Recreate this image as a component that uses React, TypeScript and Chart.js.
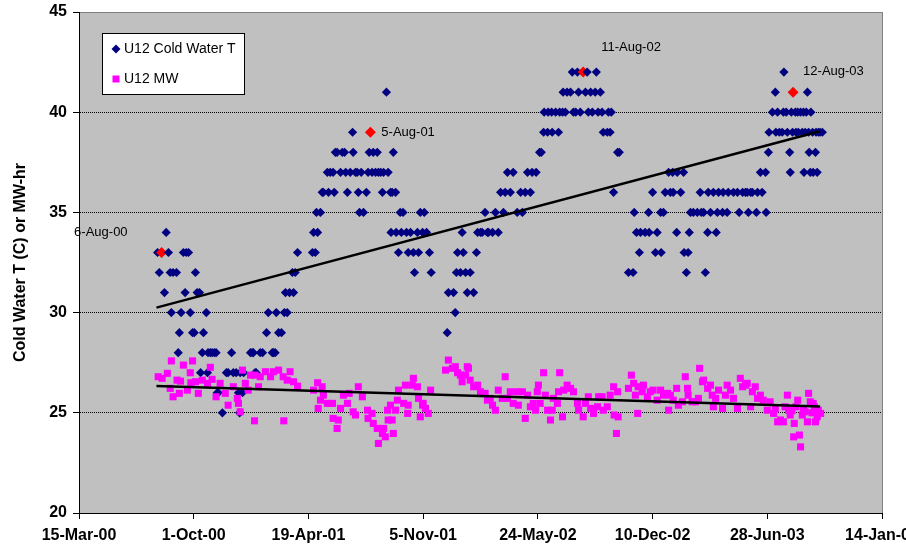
import { useEffect, useRef } from "react";
import { Chart, registerables } from "chart.js";

Chart.register(...registerables);

const FONT = "'Liberation Sans', Arial, Helvetica, sans-serif";

// x axis: days since 15-Mar-2000, ticks every 200 days
const xTickLabels = ["15-Mar-00", "1-Oct-00", "19-Apr-01", "5-Nov-01", "24-May-02", "10-Dec-02", "28-Jun-03", "14-Jan-04"];

// U12 Cold Water T (days since 15-Mar-00, deg C)
const cwDays = [
  137, 140, 149, 152, 156, 159, 161, 164, 170, 173, 175, 178, 182, 185, 187, 191, 194, 198, 201, 203, 206, 210, 212, 215, 217, 222, 224, 225, 229, 232, 236, 239, 241, 243, 250, 257, 260, 266, 269, 274, 278, 280, 281, 285, 287, 299, 302, 304, 307, 309, 316, 320, 327, 330, 337, 339, 342, 344, 348, 353, 358, 360, 363, 367, 372, 374, 377, 381,
  407, 409, 412, 414, 416, 421, 424, 426, 433, 435, 438, 443, 445, 447, 450, 456, 459, 463, 465, 468, 473, 477, 478, 482, 485, 487, 489, 492, 496, 501, 504, 506, 511, 513, 517, 520, 522, 526, 529, 531, 536, 539, 543, 544, 546, 548, 552, 553, 557, 560, 562, 565, 571, 574, 578, 583, 585, 590, 592, 595, 599, 602, 606, 611, 614,
  642, 644, 653, 656, 658, 660, 665, 668, 670, 674, 677, 682, 688, 693, 695, 700, 703, 708, 712, 714, 721, 726, 731, 735, 740, 743, 747, 752, 757, 764, 770, 773, 778, 782, 787, 790, 797, 803, 806, 810, 811, 817, 818, 824, 825, 831, 836, 838, 843, 844, 848, 851, 857, 860, 862, 866, 869, 871, 874, 883, 886, 888, 892, 895, 900, 902, 905, 909, 912, 914, 921, 923, 926, 928, 932, 939, 942,
  958, 966, 968, 972, 977, 979, 987, 993, 994, 1000, 1005, 1008, 1014, 1015, 1019, 1022, 1028, 1031, 1035, 1036, 1042, 1043, 1049, 1054, 1055, 1059, 1062, 1064, 1066, 1071, 1078, 1083, 1085, 1089, 1092, 1096, 1097, 1101, 1106, 1111, 1113, 1115, 1122, 1123, 1130, 1132, 1141, 1148, 1151, 1157, 1162, 1165, 1167, 1171, 1174, 1181, 1183, 1188, 1191, 1197, 1198,
  1202, 1203, 1209, 1214, 1215, 1218, 1221, 1226, 1228, 1229, 1233, 1235, 1239, 1240, 1242, 1244, 1249, 1250, 1253, 1254, 1258, 1261, 1263, 1264, 1266, 1268, 1270, 1272, 1273, 1275, 1276, 1279, 1280, 1284, 1285, 1287, 1289, 1292, 1296,
];
const cwTemps = [
  33, 32, 31, 34, 33, 32, 30, 32, 32, 28, 29, 30, 33, 31, 33, 33, 30, 29, 29, 32, 31, 31, 27, 28, 29, 30, 27, 28, 28, 28, 28, 28, 26, 26, 25, 27, 27, 28, 27, 27, 26, 25, 27, 26, 27, 28, 28, 28, 27, 27, 28, 28, 29, 30, 28, 28, 28, 30, 29, 29, 30, 31, 30, 31, 32, 31, 32, 33,
  33, 34, 33, 35, 34, 35, 36, 36, 37, 36, 37, 37, 36, 38, 38, 37, 38, 38, 37, 36, 37, 39, 38, 37, 37, 36, 35, 37, 35, 36, 37, 38, 37, 38, 37, 38, 37, 37, 36, 37, 41, 37, 36, 34, 36, 38, 36, 34, 33, 35, 34, 35, 34, 33, 34, 33, 32, 34, 33, 35, 34, 35, 34, 33, 32,
  29, 31, 31, 30, 32, 33, 32, 34, 33, 32, 31, 32, 31, 33, 34, 34, 34, 35, 34, 34, 34, 35, 34, 36, 35, 36, 37, 36, 37, 35, 36, 35, 36, 37, 36, 37, 37, 38, 38, 39, 40, 39, 40, 40, 39, 40, 39, 40, 40, 41, 40, 41, 41, 42, 40, 40, 42, 41, 40, 41, 42, 40, 41, 40, 41, 42, 40, 41, 40, 39, 39, 40, 39, 40, 36, 38, 38,
  32, 32, 35, 34, 33, 34, 34, 35, 34, 36, 33, 34, 35, 33, 35, 36, 37, 36, 37, 36, 34, 37, 36, 37, 33, 32, 33, 34, 35, 35, 35, 36, 35, 35, 32, 34, 36, 35, 36, 34, 35, 36, 35, 36, 35, 36, 36, 36, 35, 36, 36, 36, 35, 36, 36, 35, 36, 37, 36, 37, 35,
  38, 39, 40, 41, 39, 40, 39, 39, 40, 42, 40, 39, 38, 37, 40, 39, 40, 39, 40, 39, 40, 39, 40, 37, 39, 40, 41, 39, 38, 37, 40, 39, 37, 38, 39, 37, 39, 39, 39,
];

// U12 MW (days since 15-Mar-00, MW-hr)
const mwDays = [
  138, 145, 154, 159, 161, 164, 171, 175, 177, 182, 189, 194, 195, 198, 203, 208, 215, 224, 229, 232, 239, 246, 255, 260, 269, 276, 278, 281, 285, 290, 295, 299, 306, 307, 313, 316, 325, 334, 339, 348, 356, 357, 363, 368, 374, 381,
  409, 416, 417, 421, 424, 426, 433, 442, 443, 450, 452, 456, 461, 468, 471, 478, 482, 487, 494, 503, 504, 511, 513, 520, 522, 529, 531, 534, 538, 539, 543, 546, 548, 552, 555, 557, 566, 569, 573, 574, 581, 583, 590, 592, 595, 599, 600, 604, 609, 613,
  639, 644, 651, 656, 660, 665, 668, 674, 677, 679, 682, 688, 695, 700, 708, 712, 717, 721, 726, 731, 738, 743, 747, 752, 757, 764, 766, 773, 778, 782, 787, 792, 796, 799, 801, 804, 810, 813, 817, 822, 825, 827, 834, 836, 838, 843, 845, 851, 857, 862, 869, 871, 879, 883, 888, 892, 897, 904, 906, 912, 914, 921, 926, 932, 933, 937, 939, 940,
  958, 963, 967, 970, 974, 975, 982, 984, 991, 996, 1001, 1008, 1014, 1019, 1026, 1028, 1031, 1036, 1042, 1045, 1052, 1057, 1061, 1062, 1069, 1075, 1080, 1082, 1087, 1089, 1096, 1101, 1104, 1106, 1110, 1115, 1122, 1127, 1130, 1136, 1141, 1148, 1153, 1157, 1162, 1165, 1171, 1174, 1179, 1183, 1188, 1193, 1200,
  1205, 1211, 1214, 1218, 1223, 1228, 1231, 1235, 1237, 1240, 1243, 1246, 1247, 1250, 1253, 1256, 1258, 1261, 1263, 1266, 1270, 1272, 1275, 1278, 1280, 1282, 1284, 1287, 1289, 1293,
];
const mwValues = [
  26.8, 26.72, 26.97, 26.22, 27.59, 25.8, 26.63, 25.97, 26.58, 27.38, 26.13, 27.0, 26.5, 27.59, 26.55, 25.97, 26.63, 26.47, 27.27, 26.67, 25.8, 26.47, 25.97, 25.38, 26.3, 25.72, 25.47, 25.05, 27.13, 26.47, 26.13, 26.88, 24.6, 26.88, 26.3, 26.8, 27.05, 26.8, 27.05, 27.13, 26.8, 24.6, 26.63, 27.05, 26.55, 26.33,
  26.13, 26.5, 25.22, 25.63, 26.3, 25.88, 25.47, 25.47, 24.72, 24.22, 24.64, 25.22, 25.88, 25.47, 25.97, 25.05, 24.89, 26.3, 25.8, 25.13, 24.72, 24.97, 24.47, 24.22, 23.47, 23.97, 24.22, 23.8, 25.13, 24.64, 25.38, 24.64, 23.97, 25.13, 25.63, 26.13, 25.47, 26.38, 24.97, 25.38, 26.38, 26.72, 26.3, 25.72, 24.8, 25.38, 25.47, 25.22, 24.97, 26.13,
  27.13, 27.63, 27.22, 27.3, 27.0, 26.88, 26.55, 26.88, 27.3, 27.22, 26.63, 26.3, 26.38, 26.05, 25.97, 25.63, 25.72, 25.38, 25.13, 26.13, 25.72, 26.8, 25.72, 26.05, 25.47, 26.05, 25.38, 26.05, 24.72, 25.88, 25.3, 25.47, 25.13, 26.05, 26.38, 25.47, 27.0, 25.88, 25.13, 24.64, 25.13, 25.72, 25.47, 26.05, 27.0, 24.8, 26.13, 26.38, 26.22, 26.05, 25.47, 25.13, 24.8, 25.47, 25.8, 25.22, 24.97, 25.3, 25.8, 25.8, 25.13, 25.3, 25.88, 26.3, 24.89, 23.97, 26.05, 24.8,
  26.22, 26.88, 26.47, 25.88, 24.97, 26.3, 26.05, 26.38, 25.8, 26.05, 26.13, 25.63, 26.13, 25.88, 25.97, 25.13, 25.88, 25.63, 26.22, 25.38, 25.55, 26.8, 26.22, 25.88, 25.55, 25.55, 25.72, 27.22, 26.55, 26.63, 26.22, 26.38, 25.88, 25.3, 25.72, 26.13, 25.22, 25.88, 26.38, 26.13, 25.72, 25.22, 26.72, 26.3, 26.38, 26.47, 25.3, 26.05, 26.3, 25.72, 25.88, 25.63, 25.13,
  25.55, 24.97, 25.2, 24.55, 24.64, 24.55, 25.3, 25.88, 25.13, 24.89, 25.1, 23.8, 24.47, 25.3, 25.63, 23.89, 23.3, 24.89, 25.2, 25.05, 24.55, 25.97, 25.55, 25.0, 25.47, 25.3, 24.55, 24.8, 25.13, 24.97,
];

// Annotated summer peaks (part of the Cold Water T series, highlighted)
const peakDays = [144, 508, 879, 1245];
const peakTemps = [33, 39, 42, 41];
const peakLabels = ["6-Aug-00", "5-Aug-01", "11-Aug-02", "12-Aug-03"];

// Linear trend lines (end points)
const cwTrendDays = [135, 1292];
const cwTrendVals = [30.25, 39.05];
const mwTrendDays = [135, 1292];
const mwTrendVals = [26.34, 25.31];

const toPoints = (xs: number[], ys: number[]) => xs.map((x, i) => ({ x, y: ys[i] }));

export default function App() {
  const ref = useRef<HTMLCanvasElement>(null);

  useEffect(() => {
    if (!ref.current) return;

    // Cold water series in date order, peaks included (drawn in sequence like the source)
    const cwAll = toPoints(cwDays, cwTemps)
      .concat(toPoints(peakDays, peakTemps))
      .sort((a, b) => a.x - b.x);
    const peakIndexOf = (p: any) => {
      if (!p) return -1;
      const k = peakDays.indexOf(p.x);
      return k >= 0 && peakTemps[k] === p.y ? k : -1;
    };
    const peakPointIdx = peakDays.map((d, k) => cwAll.findIndex((p) => p.x === d && p.y === peakTemps[k]));

    const plotBg = {
      id: "plotBg",
      beforeDraw(chart: any) {
        const { ctx, chartArea: a } = chart;
        ctx.save();
        ctx.fillStyle = "#C0C0C0";
        ctx.fillRect(a.left, a.top, a.right - a.left, a.bottom - a.top);
        ctx.strokeStyle = "#808080";
        ctx.lineWidth = 1;
        ctx.strokeRect(Math.round(a.left) + 0.5, Math.round(a.top) + 0.5, Math.round(a.right - a.left), Math.round(a.bottom - a.top));
        ctx.restore();
      },
    };

    // label offsets relative to each red point: [dx, dy, align]
    const labelPlacement: [number, number, CanvasTextAlign][] = [
      [-34, -20, "right"],
      [11, 0, "left"],
      [18, -25, "left"],
      [10, -21, "left"],
    ];
    const peakLabelPlugin = {
      id: "peakLabels",
      afterDatasetsDraw(chart: any) {
        const meta = chart.getDatasetMeta(0);
        const { ctx } = chart;
        ctx.save();
        ctx.font = `13px ${FONT}`;
        ctx.fillStyle = "#000";
        ctx.textBaseline = "middle";
        peakPointIdx.forEach((idx, i) => {
          const el = meta.data[idx];
          if (!el) return;
          const [dx, dy, align] = labelPlacement[i];
          ctx.textAlign = align;
          ctx.fillText(peakLabels[i], el.x + dx, el.y + dy);
        });
        ctx.restore();
      },
    };

    const legendBox = {
      id: "legendBox",
      afterDraw(chart: any) {
        const { ctx } = chart;
        ctx.save();
        ctx.fillStyle = "#FFFFFF";
        ctx.fillRect(102.5, 33.5, 142, 61);
        ctx.strokeStyle = "#000";
        ctx.lineWidth = 1;
        ctx.strokeRect(102.5, 33.5, 142, 61);
        ctx.fillStyle = "#000080";
        ctx.beginPath();
        ctx.moveTo(116, 44.5);
        ctx.lineTo(120.5, 49);
        ctx.lineTo(116, 53.5);
        ctx.lineTo(111.5, 49);
        ctx.closePath();
        ctx.fill();
        ctx.fillStyle = "#FF00FF";
        ctx.fillRect(112.5, 75.5, 7, 7);
        ctx.fillStyle = "#000";
        ctx.font = `14px ${FONT}`;
        ctx.textBaseline = "middle";
        ctx.textAlign = "left";
        ctx.fillText(chart.data.datasets[0].label, 124, 49);
        ctx.fillText(chart.data.datasets[1].label, 124, 79);
        ctx.restore();
      },
    };

    const chart = new Chart(ref.current, {
      type: "scatter",
      data: {
        datasets: [
          {
            label: "U12 Cold Water T",
            data: cwAll,
            pointStyle: "rectRot",
            pointRadius: (c: any) => (peakIndexOf(c.raw) >= 0 ? 5.5 : 4.6),
            backgroundColor: (c: any) => (peakIndexOf(c.raw) >= 0 ? "#FF0000" : "#000080"),
            borderWidth: 0,
            order: 4,
          },
          {
            label: "U12 MW",
            data: toPoints(mwDays, mwValues),
            pointStyle: "rect",
            pointRadius: 5,
            backgroundColor: "#FF00FF",
            borderColor: "#FF00FF",
            borderWidth: 0,
            order: 3,
          },
          {
            label: "Cold Water T trend",
            data: toPoints(cwTrendDays, cwTrendVals),
            showLine: true,
            pointRadius: 0,
            borderColor: "#000",
            borderWidth: 2.5,
            order: 1,
          },
          {
            label: "MW trend",
            data: toPoints(mwTrendDays, mwTrendVals),
            showLine: true,
            pointRadius: 0,
            borderColor: "#000",
            borderWidth: 2.5,
            order: 2,
          },
        ],
      },
      options: {
        animation: false,
        responsive: false,
        events: [],
        layout: { padding: { top: 12, right: 24, left: 0, bottom: 0 } },
        plugins: {
          legend: { display: false },
          tooltip: { enabled: false },
        },
        scales: {
          x: {
            type: "linear",
            min: 0,
            max: 1400,
            afterFit(scale: any) {
              scale.height = 39;
              scale.paddingLeft = 0;
              scale.paddingRight = 0;
            },
            ticks: {
              stepSize: 200,
              autoSkip: false,
              maxRotation: 0,
              padding: 7,
              color: "#000",
              font: { family: FONT, size: 16, weight: "bold" },
              callback: (v: any) => xTickLabels[Math.round(Number(v) / 200)] ?? "",
            },
            grid: {
              drawOnChartArea: false,
              drawTicks: true,
              tickLength: 6,
              color: "#000",
              tickColor: "#000",
            },
            border: { display: true, color: "#000", width: 1 },
          },
          y: {
            min: 20,
            max: 45,
            afterFit(scale: any) {
              scale.width = 79;
              scale.paddingTop = 0;
              scale.paddingBottom = 0;
            },
            ticks: {
              stepSize: 5,
              padding: 6,
              color: "#000",
              font: { family: FONT, size: 16, weight: "bold" },
            },
            title: {
              display: true,
              text: "Cold Water T (C) or MW-hr",
              color: "#000",
              font: { family: FONT, size: 16, weight: "bold" },
              padding: { top: 11, bottom: 0 },
            },
            grid: {
              color: (c: any) => (c.tick && (c.tick.value === 20 || c.tick.value === 45) ? "rgba(0,0,0,0)" : "#000"),
              tickColor: "#000",
              tickLength: 6,
              tickBorderDash: [],
            },
            border: { display: true, color: "#000", width: 1, dash: [1, 1] },
          },
        },
      },
      plugins: [plotBg, peakLabelPlugin, legendBox],
    } as any);

    return () => chart.destroy();
  }, []);

  return (
    <div style={{ position: "absolute", left: 0, top: 0, width: 906, height: 552, overflow: "hidden", background: "#fff" }}>
      <canvas ref={ref} width={906} height={552} style={{ display: "block" }} />
    </div>
  );
}
